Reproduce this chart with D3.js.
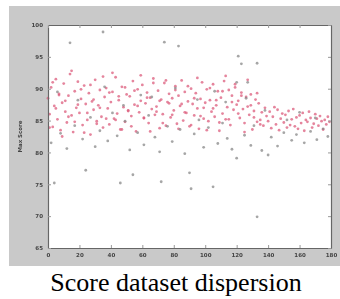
<!DOCTYPE html>
<html><head><meta charset="utf-8">
<script src="https://cdn.jsdelivr.net/npm/d3@7"></script>
<style>body{margin:0;background:#fff;}svg{display:block;}</style>
</head><body>
<script>
// Data
const xTicks = [0,20,40,60,80,100,120,140,160,180];
const yTicks = [65,70,75,80,85,90,95,100];
const yLabel = "Max Score";
const title = "Score dataset dispersion";

// red series A: one value per sample index 0..179
const redA = [88.5,86,90.2,84,87.3,91.5,85.2,89,83.5,87.8,90.8,86.4,84.7,88.9,92.3,85.8,83.2,89.6,87,91.1,
86.2,88.4,84.3,90.5,87.6,85.1,89.3,82.8,88,86.7,91.4,84.9,87.4,89.8,85.6,83.9,88.7,90.1,86.9,84.4,
87.9,89.5,85.3,91.8,86.1,88.2,83.6,90.3,87.1,84.8,89.1,86.5,88.8,85.7,91.2,87.5,83.3,89.9,86.3,88.1,
90.6,85.4,87.7,89.4,84.6,88.6,86.8,91.6,85.9,87.2,89.7,83.8,88.3,86,90.9,84.2,87.9,89.2,85.5,88.5,
86.6,90.4,84.5,88.9,87.3,91.3,85,89.5,86.2,88,84.1,90,87.6,85.8,89.3,86.9,83.7,88.4,91,85.3,
87.8,89.9,84.9,88.2,86.4,90.7,85.6,87.4,89.6,83.4,88.6,86.1,91.2,85.2,87.1,89.8,84.3,88.9,86.7,90.2,
87.5,88.1,85.4,89.4,86.8,84.6,88.7,87.2,85.9,89.1,83.6,86.5,88.3,84.8,87.7,85.1,86.3,84.2,87,85.7,
84.9,86.4,83.8,85.6,87.1,84.4,86.7,83.5,85.3,86.1,84.7,85.9,83.9,86.5,84.3,85.2,86.8,84.1,85.5,83.7,
85.8,84.6,86.2,83.4,85.1,84.8,86.4,85.4,83.9,84.5,86,85.3,84.2,85.7,84.9,83.6,85.1,84.4,85.6,84.8];
// red series B: values for sample indices 1, 3, 5 ... 135
const redB = [83.9,91,86.9,89.2,82.5,88.1,85.6,92.8,84.8,87.5,89.9,83.1,86.2,90.6,88.3,84.5,87,91.9,85.3,89.4,
92.5,85.1,88.8,83.6,90.2,86.6,84.1,89.7,87.3,92.1,85.4,88.6,83.3,90.9,86.4,88.1,84.6,91.3,87.7,85.9,
89.8,83.7,87.6,86.3,90.4,84.3,88.5,91.7,85.7,87,83.5,90.1,86.9,88.2,84.7,89.6,92,85.2,87.9,90.7,
86.1,88.9,83.2,91.4,87.4,85.5,89.3,84.4];
// gray series: explicit (x, y)
const grayX = [14,35,74,83,121,123,133,120,127,24,4,46,54,72,90,91,105,133,120,140,
2,8,12,17,22,27,30,33,38,41,44,49,52,57,61,64,68,71,76,79,84,87,93,96,99,102,108,111,114,117,
125,129,131,136,142,146,150,155,158,163,167,171,175,178,6,19,36,48,59,66,81,95,106,113,126,138,152,160,170];
const grayY = [97.2,98.9,97.3,96.7,95.1,93.9,94.0,91,91,77.2,75.2,75.2,76.5,75.4,76.8,74.3,74.6,69.9,79.1,79.6,
81.5,83,80.6,84.2,82.1,85.5,80.9,83.4,81.8,86.2,82.6,84.9,80.4,83.1,81.2,85.8,82.4,80.1,84.1,81.7,83.6,79.8,82.9,85.1,80.8,83.9,81.4,84.6,82.2,80.5,
82.7,81.1,84.2,80.3,82.4,81,83.1,81.9,82.8,81.5,83.3,82,83.7,82.5,89.5,88.2,90.3,87.4,89,88.7,90.1,88.3,89.6,87.9,88.5,86.6,85.1,86.3,85.4];

const W = 340, H = 299;
const svg = d3.select("body").append("svg").attr("width", W).attr("height", H);
const defs = svg.append("defs");
defs.append("filter").attr("id", "soft").append("feGaussianBlur").attr("stdDeviation", 0.45);

const fig = svg.append("g").attr("filter", "url(#soft)");
// figure background
fig.append("rect").attr("x", 9).attr("y", 6).attr("width", 331).attr("height", 260).attr("fill", "#c9c9c9");

const m = {l: 48, t: 25, r: 331, b: 248};
const x = d3.scaleLinear().domain([0, 180]).range([m.l, m.r]);
const y = d3.scaleLinear().domain([65, 100]).range([m.b, m.t]);

fig.append("rect").attr("x", m.l).attr("y", m.t).attr("width", m.r - m.l).attr("height", m.b - m.t)
  .attr("fill", "#ffffff");

const g = fig.append("g");
const redPts = redA.map((v, i) => [i, v]).concat(redB.map((v, i) => [2 * i + 1, v]));
const grayPts = grayX.map((v, i) => [v, grayY[i]]);

g.selectAll("circle.r").data(redPts).enter().append("circle").attr("class", "r")
  .attr("cx", d => x(d[0])).attr("cy", d => y(d[1])).attr("r", 1.4)
  .attr("fill", "#dc5c7c").attr("fill-opacity", 0.75);
g.selectAll("circle.g").data(grayPts).enter().append("circle").attr("class", "g")
  .attr("cx", d => x(d[0])).attr("cy", d => y(d[1])).attr("r", 1.4)
  .attr("fill", "#888").attr("fill-opacity", 0.75);

// axes (MATLAB style, ticks inward)
const axStyle = sel => {
  sel.selectAll("path").attr("stroke", "#666").attr("stroke-width", 1.2);
  sel.selectAll("line").attr("stroke", "#999");
  sel.selectAll("text").attr("fill", "#444").attr("font-family", "DejaVu Sans, sans-serif").attr("font-size", 5.5).attr("font-weight", "bold");
};
fig.append("g").attr("transform", `translate(0,${m.b})`)
  .call(d3.axisBottom(x).tickValues(xTicks).tickSize(-3).tickPadding(5).tickSizeOuter(0))
  .call(axStyle);
fig.append("g").attr("transform", `translate(${m.l},0)`)
  .call(d3.axisLeft(y).tickValues(yTicks).tickSize(-3).tickPadding(5).tickSizeOuter(0))
  .call(axStyle);
fig.append("g").attr("transform", `translate(0,${m.t})`)
  .call(d3.axisTop(x).tickValues(xTicks).tickSize(-3).tickFormat("").tickSizeOuter(0))
  .call(axStyle);
fig.append("g").attr("transform", `translate(${m.r},0)`)
  .call(d3.axisRight(y).tickValues(yTicks).tickSize(-3).tickFormat("").tickSizeOuter(0))
  .call(axStyle);

fig.append("text").attr("transform", `translate(22,${(m.t + m.b) / 2}) rotate(-90)`)
  .attr("text-anchor", "middle").attr("font-family", "DejaVu Sans, sans-serif")
  .attr("font-size", 5.5).attr("fill", "#444").attr("font-weight", "bold").text(yLabel);

svg.append("text").attr("x", 176).attr("y", 291).attr("text-anchor", "middle")
  .attr("font-family", "Liberation Serif, Times New Roman, serif").attr("font-size", 26)
  .attr("fill", "#000").text(title);
</script>
</body></html>
